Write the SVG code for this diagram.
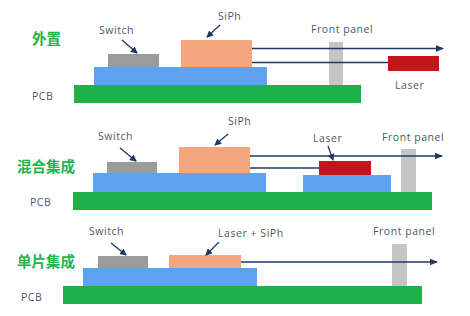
<svg xmlns="http://www.w3.org/2000/svg" width="470" height="316" viewBox="0 0 470 316">
  <defs>
    <marker id="ah" markerWidth="8" markerHeight="8" refX="7" refY="4" orient="auto" markerUnits="userSpaceOnUse">
      <path d="M0,0.8 L8,4 L0,7.2 Z" fill="#1f3864"/>
    </marker>
    <marker id="ph" markerWidth="7" markerHeight="7" refX="6" refY="3.5" orient="auto" markerUnits="userSpaceOnUse">
      <path d="M0,0 L7,3.5 L0,7 Z" fill="#1f3864"/>
    </marker>
  </defs>
  <style>
    .lbl { font-family: "Open Sans", "Liberation Sans", sans-serif; font-size: 10.5px; fill: #4a566b; letter-spacing: 0.55px; }
    .cn { font-family: "Noto Sans CJK SC", sans-serif; font-size: 14.5px; font-weight: bold; fill: #22b24c; }
    .pcb { fill: #1fb04a; }
    .sub { fill: #5ea2f2; }
    .sw { fill: #9b9b9b; }
    .siph { fill: #f4a77f; }
    .laser { fill: #c2161b; }
    .fp { fill: #c5c5c5; }
    .beam { stroke: #1f3864; stroke-width: 1.3; fill: none; }
    .ptr { stroke: #1f3864; stroke-width: 1.3; fill: none; }
  </style>
  <rect width="470" height="316" fill="#ffffff"/>

  <!-- Section 1: 外置 -->
  <g id="s1-title"><text class="cn" x="32" y="44">外置</text></g>
  <g id="s1-pcb"><rect class="pcb" x="74" y="85" width="287" height="18"/><text class="lbl" x="32" y="100">PCB</text></g>
  <g id="s1-sub"><rect class="sub" x="94" y="67" width="173" height="18"/></g>
  <g id="s1-switch"><rect class="sw" x="108" y="54" width="51" height="13"/><text class="lbl" x="99" y="34">Switch</text></g>
  <g id="s1-siph"><rect class="siph" x="181" y="40" width="71" height="27"/><text class="lbl" x="218" y="20">SiPh</text></g>
  <g id="s1-fp"><rect class="fp" x="329" y="42" width="14" height="43"/><text class="lbl" x="311" y="33">Front panel</text></g>
  <g id="s1-laser"><rect class="laser" x="388" y="56" width="51" height="15"/><text class="lbl" x="395" y="89">Laser</text></g>

  <!-- Section 2: 混合集成 -->
  <g id="s2-title"><text class="cn" x="17" y="172">混合集成</text></g>
  <g id="s2-pcb"><rect class="pcb" x="73" y="192" width="359" height="18"/><text class="lbl" x="30" y="206">PCB</text></g>
  <g id="s2-sub1"><rect class="sub" x="93" y="173" width="173" height="19"/></g>
  <g id="s2-sub2"><rect class="sub" x="303" y="175" width="88" height="17"/></g>
  <g id="s2-switch"><rect class="sw" x="107" y="162" width="50" height="11"/><text class="lbl" x="98" y="140">Switch</text></g>
  <g id="s2-siph"><rect class="siph" x="179" y="147" width="71" height="26"/><text class="lbl" x="228" y="125">SiPh</text></g>
  <g id="s2-laser"><rect class="laser" x="319" y="161" width="52" height="14"/><text class="lbl" x="313" y="142">Laser</text></g>
  <g id="s2-fp"><rect class="fp" x="401" y="149" width="15" height="43"/><text class="lbl" x="382" y="141">Front panel</text></g>

  <!-- Section 3: 单片集成 -->
  <g id="s3-title"><text class="cn" x="17" y="267">单片集成</text></g>
  <g id="s3-pcb"><rect class="pcb" x="63" y="286" width="359" height="18"/><text class="lbl" x="21" y="301">PCB</text></g>
  <g id="s3-sub"><rect class="sub" x="83" y="268" width="174" height="18"/></g>
  <g id="s3-switch"><rect class="sw" x="98" y="256" width="50" height="12"/><text class="lbl" x="89" y="235">Switch</text></g>
  <g id="s3-laser-siph"><rect class="siph" x="169" y="255" width="72" height="13"/><text class="lbl" x="218" y="237">Laser + SiPh</text></g>
  <g id="s3-fp"><rect class="fp" x="392" y="244" width="15" height="42"/><text class="lbl" x="373" y="235">Front panel</text></g>

  <!-- Connectors -->
  <g id="connectors">
    <line class="beam" x1="252" y1="48.5" x2="443" y2="48.5" marker-end="url(#ah)"/>
    <line class="beam" x1="252" y1="62.5" x2="388" y2="62.5"/>
    <line class="ptr" x1="122" y1="40" x2="137" y2="53" marker-end="url(#ph)"/>
    <line class="ptr" x1="220" y1="25" x2="207" y2="37" marker-end="url(#ph)"/>

    <line class="beam" x1="250" y1="156" x2="442" y2="156" marker-end="url(#ah)"/>
    <line class="beam" x1="250" y1="168" x2="319" y2="168"/>
    <line class="ptr" x1="120" y1="148" x2="136" y2="161" marker-end="url(#ph)"/>
    <line class="ptr" x1="228" y1="134" x2="215" y2="145" marker-end="url(#ph)"/>
    <line class="ptr" x1="328" y1="146" x2="333" y2="160" marker-end="url(#ph)"/>

    <line class="beam" x1="241" y1="262" x2="437" y2="262" marker-end="url(#ah)"/>
    <line class="ptr" x1="111" y1="243" x2="126" y2="255" marker-end="url(#ph)"/>
    <line class="ptr" x1="219" y1="242" x2="206" y2="255" marker-end="url(#ph)"/>
  </g>
</svg>
